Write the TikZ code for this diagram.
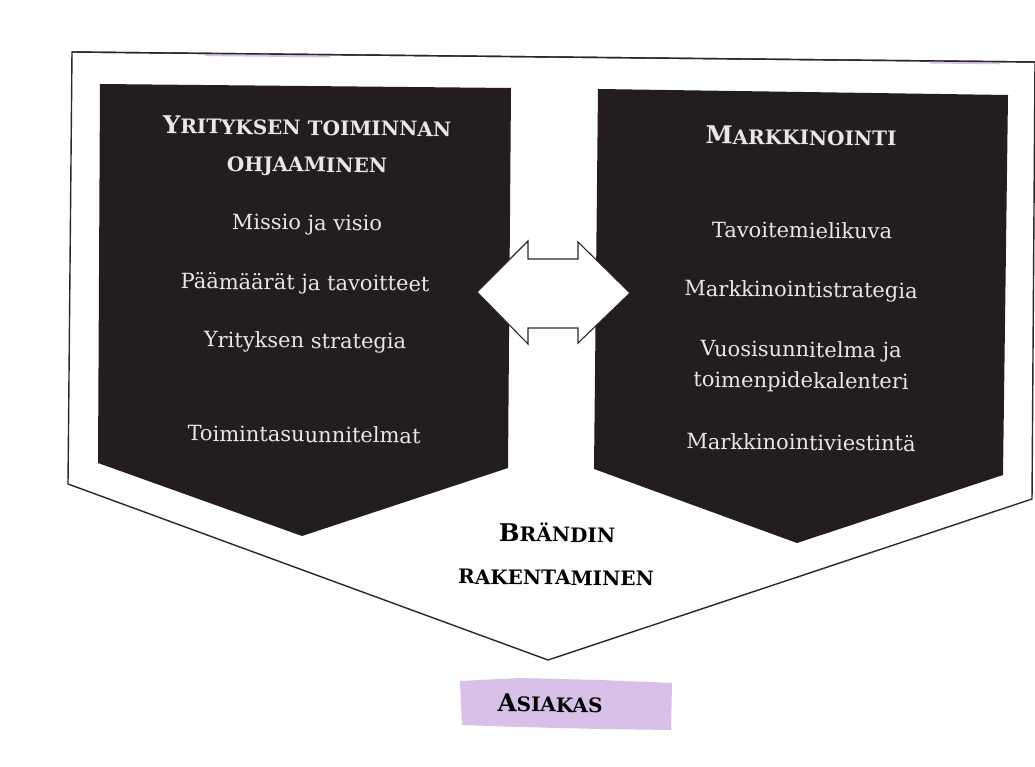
\documentclass[tikz,border=0pt]{standalone}
\usepackage{fontspec}
\setmainfont{DejaVu Serif}
\definecolor{darkbox}{RGB}{36,29,31}
\definecolor{boxtext}{RGB}{232,230,232}
\definecolor{lilac}{RGB}{216,192,232}
\definecolor{frameline}{RGB}{40,40,40}
\newcommand{\bigsc}[2]{{\bfseries\fontsize{24.5}{28}\selectfont #1\fontsize{20}{24}\selectfont #2}}
\newcommand{\smsc}[1]{{\bfseries\fontsize{20}{24}\selectfont #1}}
\tikzset{
  itemtext/.style={anchor=base, text=boxtext, font=\fontsize{21}{25}\selectfont, inner sep=0pt, rotate=-0.6},
  titletext/.style={anchor=base, text=boxtext, inner sep=0pt, rotate=-0.6},
  blacktext/.style={anchor=base, text=black, inner sep=0pt, rotate=-0.6},
  darkpanel/.style={fill=darkbox, draw=none},
  outerframe/.style={fill=white, draw=frameline, line width=1.4pt, line join=miter}
}
\begin{document}
\begin{tikzpicture}[x=1pt,y=-1pt]
\useasboundingbox (0,0) rectangle (1035,767);
\fill[white] (0,0) rectangle (1035,767);
% outer white pentagon
\draw[outerframe] (72,52) -- (1035,62) -- (1032,499) -- (548,660) -- (68,484) -- cycle;
% lilac traces on top line
\draw[lilac, line width=3pt] (205,54.6) -- (330,55.9);
\draw[lilac, line width=3pt] (930,62.0) -- (1000,62.8);
\draw[frameline, line width=1.4pt] (72,52) -- (1035,62);
% left dark pentagon
\fill[darkpanel] (100,84) -- (511,88) -- (508,468) -- (302,536) -- (98,463) -- cycle;
% right dark pentagon
\fill[darkpanel] (598,89) -- (1008,95) -- (1003,475) -- (797,543) -- (594,469) -- cycle;
% double arrow
\draw[fill=white, draw=frameline, line width=1.1pt, line join=miter]
  (477,292) -- (528,241) -- (528,259) -- (578,259) -- (578,242) -- (630,293)
  -- (578,343) -- (578,328) -- (528,328) -- (528,344) -- cycle;
% left panel texts
\node[titletext] (lt1) at (307,135) {\bigsc{Y}{RITYKSEN TOIMINNAN}};
\node[titletext] (lt2) at (307,172) {\smsc{OHJAAMINEN}};
\node[itemtext] (l1) at (307,230) {Missio ja visio};
\node[itemtext] (l2) at (305,290) {Päämäärät ja tavoitteet};
\node[itemtext] (l3) at (305,348) {Yrityksen strategia};
\node[itemtext] (l4) at (304,442) {Toimintasuunnitelmat};
% right panel texts
\node[titletext] (rt1) at (801,145) {\bigsc{M}{ARKKINOINTI}};
\node[itemtext] (r1) at (802,238) {Tavoitemielikuva};
\node[itemtext] (r2) at (801,297) {Markkinointistrategia};
\node[itemtext] (r3) at (801,357) {Vuosisunnitelma ja};
\node[itemtext] (r4) at (801,388) {toimenpidekalenteri};
\node[itemtext] (r5) at (801,450) {Markkinointiviestintä};
% bottom texts
\node[blacktext] (b1) at (557,542) {\bigsc{B}{RÄNDIN}};
\node[blacktext] (b2) at (556,585) {\smsc{RAKENTAMINEN}};
% customer highlight
\fill[lilac] (460,681) -- (520,678) -- (600,680) -- (672,683) -- (671,730) -- (600,729) -- (520,727) -- (462,725) -- cycle;
\node[blacktext] (asiakas) at (550,712) {\bigsc{A}{SIAKAS}};
\end{tikzpicture}
\end{document}
